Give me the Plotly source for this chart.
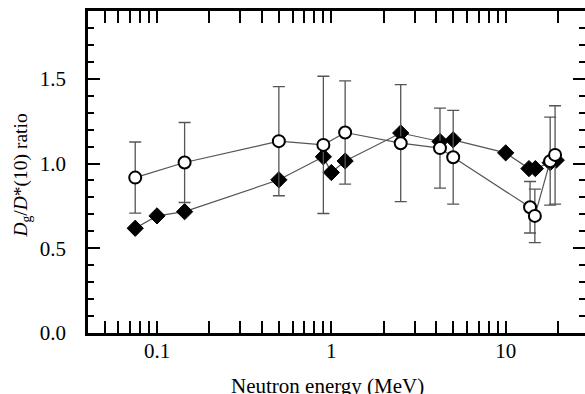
import math
import plotly.graph_objects as go

# Filled diamonds
diamond_energy = [0.075, 0.1, 0.144, 0.5, 0.9, 1.0, 1.2, 2.5, 4.2, 5.0, 10, 13.6, 14.8, 18, 19.5]
diamond_ratio = [0.618, 0.691, 0.716, 0.904, 1.04, 0.947, 1.015, 1.18, 1.13, 1.14, 1.063, 0.97, 0.97, 1.005, 1.02]

# Open circles with error bars
circle_energy = [0.075, 0.144, 0.5, 0.9, 1.2, 2.5, 4.2, 5.0, 13.8, 14.7, 18, 19.2]
circle_ratio = [0.917, 1.006, 1.132, 1.11, 1.183, 1.12, 1.091, 1.037, 0.742, 0.691, 1.014, 1.051]
circle_err = [0.21, 0.236, 0.322, 0.405, 0.305, 0.345, 0.236, 0.277, 0.152, 0.158, 0.26, 0.29]

x_tickvals = [0.1, 1, 10]
x_ticktext = ["0.1", "1", "10"]
x_minor = [0.05, 0.06, 0.07, 0.08, 0.09, 0.2, 0.3, 0.4, 0.5, 0.6, 0.7, 0.8, 0.9,
           2, 3, 4, 5, 6, 7, 8, 9, 20]
y_tickvals = [0.0, 0.5, 1.0, 1.5]
y_ticktext = ["0.0", "0.5", "1.0", "1.5"]

FONT = "Liberation Serif"
LINEC = "#555555"

fig = go.Figure()
fig.add_trace(go.Scatter(
    x=diamond_energy, y=diamond_ratio, mode="lines+markers",
    line=dict(color=LINEC, width=1.2),
    marker=dict(symbol="diamond", size=12.5, color="black", line=dict(color="black", width=1)),
    yaxis="y", cliponaxis=False,
))
fig.add_trace(go.Scatter(
    x=circle_energy, y=circle_ratio, mode="lines+markers",
    line=dict(color=LINEC, width=1.2),
    marker=dict(symbol="circle", size=12, color="white", line=dict(color="black", width=2)),
    error_y=dict(type="data", array=circle_err, visible=True, color=LINEC, thickness=1.3, width=6),
    yaxis="y2", cliponaxis=False,
))

xr = [math.log10(0.0402), 1.455]
yr = [0, 1.9]
fig.update_layout(
    width=585, height=394,
    margin=dict(l=88, r=0, t=11, b=61),
    paper_bgcolor="white", plot_bgcolor="white",
    showlegend=False,
    xaxis=dict(
        type="log", range=xr, showgrid=False, zeroline=False,
        showline=True, linecolor="black", linewidth=2.5, mirror="allticks",
        ticks="inside", ticklen=12, tickwidth=2, tickcolor="black",
        tickvals=x_tickvals, ticktext=x_ticktext,
        minor=dict(ticks="inside", ticklen=6.5, tickwidth=1.6, tickcolor="black", tickvals=x_minor, showgrid=False),
        tickfont=dict(family=FONT, size=21, color="black"),
        ticklabelstandoff=-3,
    ),
    yaxis=dict(
        range=yr, showgrid=False, zeroline=False,
        showline=True, linecolor="black", linewidth=2.5, mirror=False,
        ticks="inside", ticklen=12, tickwidth=2, tickcolor="black",
        tickvals=y_tickvals, ticktext=y_ticktext,
        minor=dict(ticks="inside", ticklen=6.5, tickwidth=1.6, tickcolor="black", dtick=0.1, showgrid=False),
        tickfont=dict(family=FONT, size=21, color="black"),
        ticklabelstandoff=15,
    ),
    yaxis2=dict(
        range=yr, overlaying="y", side="right", anchor="x",
        showgrid=False, zeroline=False, showline=False,
        ticks="inside", ticklen=12, tickwidth=2, tickcolor="black",
        tickvals=y_tickvals, showticklabels=False,
        minor=dict(ticks="inside", ticklen=6.5, tickwidth=1.6, tickcolor="black", dtick=0.1, showgrid=False),
    ),
    annotations=[
        dict(text="Neutron energy (MeV)", xref="paper", yref="paper",
             x=0.481, y=-0.165, xanchor="center", yanchor="middle", showarrow=False,
             font=dict(family=FONT, size=21, color="black")),
        dict(text="<i>D</i><sub>g</sub>/<i>D</i>*(10) ratio", xref="paper", yref="paper",
             x=-0.132, y=0.49, xanchor="center", yanchor="middle", textangle=-90, showarrow=False,
             font=dict(family=FONT, size=19.5, color="black")),
    ],
)

fig.write_html(
    "out.html",
    config={"responsive": False, "displayModeBar": False},
    post_script="document.body.style.margin='0';document.body.style.overflow='hidden';",
)
